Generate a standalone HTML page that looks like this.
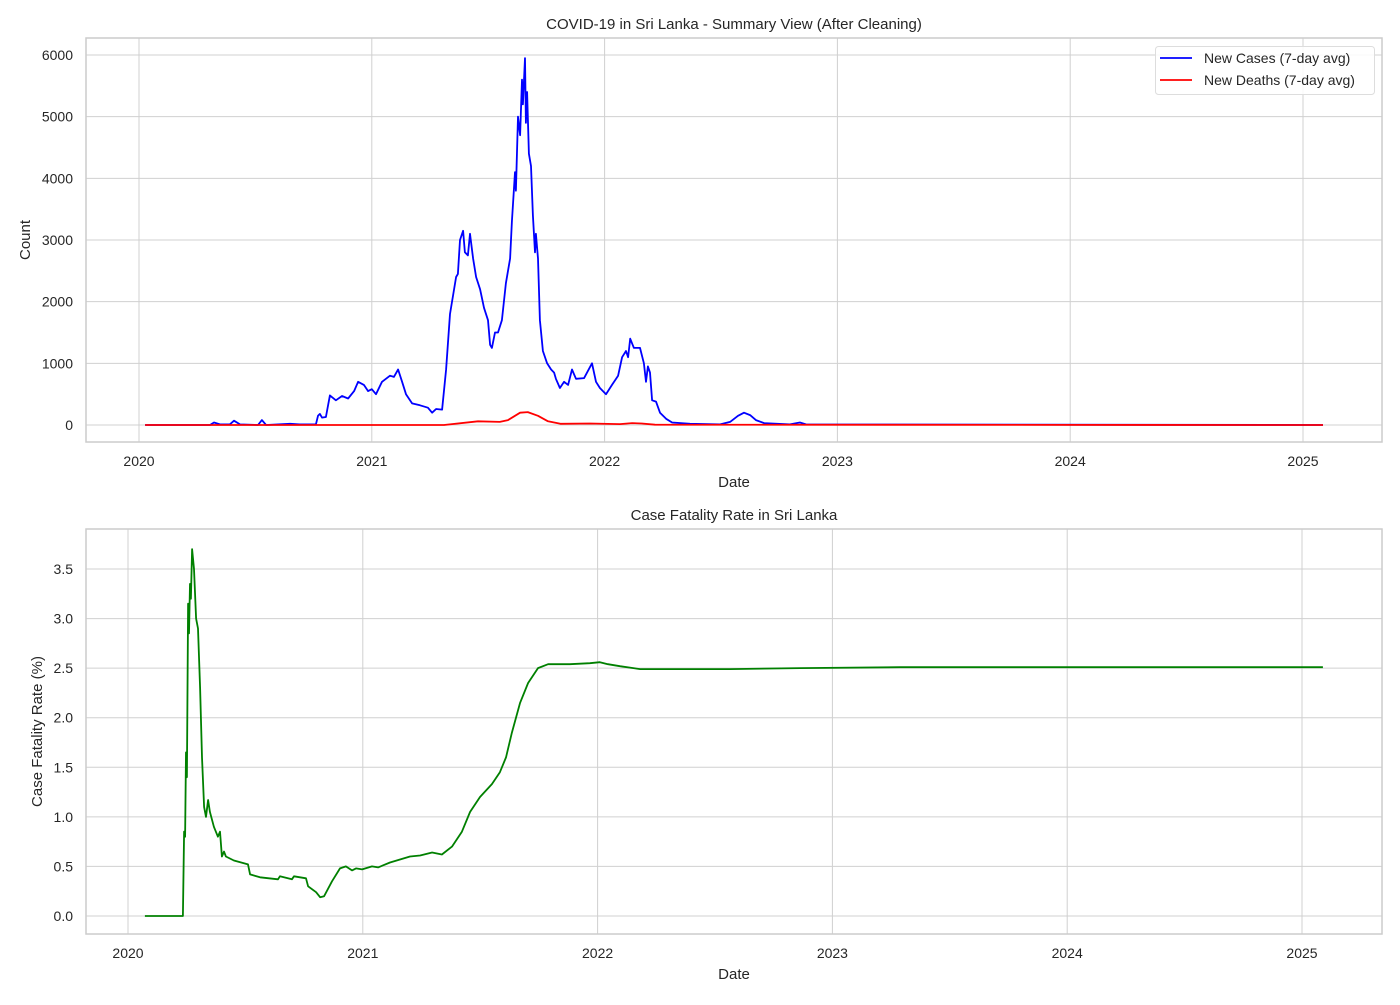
<!DOCTYPE html>
<html><head><meta charset="utf-8"><style>
body{margin:0;background:#fff}
svg text{font-family:"Liberation Sans",Arial,sans-serif;fill:#262626}
</style></head><body>
<svg id="c" width="1400" height="1000" xmlns="http://www.w3.org/2000/svg"></svg>
<script>
// Top chart data (offset years since 2020)
const caseYears=[0.026,0.305,0.322,0.348,0.39,0.408,0.434,0.511,0.528,0.546,0.649,0.69,0.76,0.769,0.777,0.786,0.803,0.82,0.846,0.872,0.898,0.924,0.941,0.966,0.984,1.0,1.018,1.044,1.078,1.095,1.113,1.13,1.147,1.173,1.207,1.241,1.259,1.276,1.302,1.319,1.336,1.362,1.37,1.379,1.392,1.40,1.413,1.422,1.435,1.448,1.465,1.482,1.499,1.508,1.516,1.529,1.542,1.559,1.576,1.594,1.602,1.615,1.619,1.628,1.637,1.645,1.649,1.658,1.662,1.667,1.675,1.684,1.692,1.701,1.705,1.714,1.722,1.735,1.753,1.77,1.783,1.791,1.808,1.826,1.843,1.86,1.877,1.912,1.946,1.963,1.98,2.006,2.032,2.058,2.075,2.092,2.101,2.11,2.126,2.152,2.169,2.178,2.186,2.195,2.204,2.221,2.238,2.264,2.29,2.367,2.496,2.539,2.573,2.599,2.625,2.65,2.685,2.796,2.839,2.865,5.086];
const caseValues=[0,0,40,10,10,70,10,0,80,0,20,10,10,150,180,120,130,480,400,470,430,550,700,650,550,580,500,700,800,780,900,700,500,350,320,280,200,260,250,900,1800,2400,2450,3000,3150,2800,2750,3100,2700,2400,2200,1900,1700,1300,1250,1500,1500,1700,2300,2700,3300,4100,3800,5000,4700,5600,5200,5950,4900,5400,4400,4200,3400,2800,3100,2700,1700,1200,1000,900,850,750,600,700,650,900,750,760,1000,700,600,500,650,800,1100,1200,1100,1400,1250,1250,1000,700,950,850,400,380,200,100,40,20,10,50,150,200,160,80,30,10,40,10,0];
const deathYears=[0.026,1.31,1.456,1.55,1.585,1.637,1.67,1.714,1.757,1.81,1.937,2.066,2.118,2.16,2.216,5.086];
const deathValues=[0,0,60,50,80,200,210,150,60,20,25,15,30,25,5,0];
// Bottom chart data
const cfrYears=[0.072,0.234,0.239,0.243,0.247,0.251,0.256,0.26,0.264,0.268,0.273,0.281,0.29,0.298,0.307,0.315,0.324,0.332,0.341,0.349,0.366,0.383,0.392,0.4,0.409,0.417,0.451,0.511,0.52,0.562,0.639,0.647,0.698,0.707,0.758,0.767,0.801,0.818,0.835,0.869,0.903,0.928,0.954,0.971,0.997,1.039,1.065,1.116,1.201,1.244,1.295,1.337,1.38,1.422,1.457,1.499,1.55,1.584,1.61,1.635,1.67,1.704,1.746,1.789,1.882,1.967,2.01,2.044,2.095,2.181,2.564,2.862,3.288,5.089];
const cfrValues=[0,0,0.85,0.8,1.65,1.4,3.15,2.85,3.35,3.2,3.7,3.5,3.0,2.9,2.3,1.6,1.1,1.0,1.17,1.05,0.9,0.8,0.85,0.6,0.65,0.6,0.56,0.52,0.42,0.39,0.37,0.4,0.37,0.4,0.38,0.3,0.24,0.19,0.2,0.35,0.48,0.5,0.46,0.48,0.47,0.5,0.49,0.54,0.6,0.61,0.64,0.62,0.7,0.85,1.05,1.2,1.33,1.45,1.6,1.85,2.15,2.35,2.5,2.54,2.54,2.55,2.56,2.54,2.52,2.49,2.49,2.5,2.51,2.51];
const yearTicks=["2020","2021","2022","2023","2024","2025"];
const topTicks=[0,1000,2000,3000,4000,5000,6000];
const botTicks=[0,0.5,1,1.5,2,2.5,3,3.5];

const NS="http://www.w3.org/2000/svg";
const svg=document.getElementById('c');
function el(t,a,p){const e=document.createElementNS(NS,t);for(const k in a)e.setAttribute(k,a[k]);(p||svg).appendChild(e);return e;}

function panel(o){
  const g=el('g',{});
  
  
  const X=v=>o.x0+v*o.xs, Y=v=>o.y0-v*o.ys;
  yearTicks.forEach((t,i)=>{
    const x=X(i);
    const l=el('line',{x1:x,x2:x,y1:o.top,y2:o.bot,stroke:'#d0d0d0','stroke-width':1},g);
    
    const tx=el('text',{x:x,y:o.bot+24,'text-anchor':'middle','font-size':14},g);tx.textContent=t;
    
  });
  o.ticks.forEach(v=>{
    const y=Y(v);
    const l=el('line',{x1:86,x2:1382,y1:y,y2:y,stroke:'#d0d0d0','stroke-width':1},g);
    
    const tx=el('text',{x:73,y:y+5,'text-anchor':'end','font-size':14},g);tx.textContent=o.fmt(v);
    
  });
  const r=el('rect',{x:86,y:o.top,width:1296,height:o.bot-o.top,fill:'none',stroke:'#cccccc','stroke-width':1.5},g);
  
  o.series.forEach(s=>{
    const d=s.xs.map((v,i)=>(i?'L':'M')+X(v).toFixed(1)+','+Y(s.ys[i]).toFixed(1)).join('');
    const p=el('path',{d:d,fill:'none',stroke:s.color,'stroke-width':1.8,'stroke-linejoin':'round'},g);
    
  });
  const t=el('text',{x:734,y:o.top-9,'text-anchor':'middle','font-size':15},g);t.textContent=o.title;
  
  const xl=el('text',{x:734,y:o.bot+45,'text-anchor':'middle','font-size':15},g);xl.textContent='Date';
  
  const cy=(o.top+o.bot)/2;
  const yl=el('text',{x:o.ylx,y:cy,'text-anchor':'middle','font-size':15,transform:`rotate(-90 ${o.ylx} ${cy})`},g);yl.textContent=o.ylabel;
  
}
panel({name:'summary-panel',top:38,bot:442,x0:139,xs:232.8,y0:425,ys:370/6000,ticks:topTicks,fmt:v=>String(v),
  title:'COVID-19 in Sri Lanka - Summary View (After Cleaning)',ylabel:'Count',ylx:30,
  series:[{name:'new-cases-line',xs:caseYears,ys:caseValues,color:'#0000ff'},{name:'new-deaths-line',xs:deathYears,ys:deathValues,color:'#ff0000'}]});
panel({name:'cfr-panel',top:529,bot:934,x0:128,xs:234.8,y0:916,ys:347/3.5,ticks:botTicks,fmt:v=>v.toFixed(1),
  title:'Case Fatality Rate in Sri Lanka',ylabel:'Case Fatality Rate (%)',ylx:42,
  series:[{name:'cfr-line',xs:cfrYears,ys:cfrValues,color:'#008000'}]});
// legend
const lg=el('g',{});


el('rect',{x:1155.5,y:46.5,width:219,height:48,rx:3,fill:'#fff','fill-opacity':0.85,stroke:'#dddddd'},lg);
[['New Cases (7-day avg)','#0000ff',58],['New Deaths (7-day avg)','#ff0000',80]].forEach(([t,c,y])=>{
  const e=el('g',{},lg);
  
  
  el('line',{x1:1160,x2:1192,y1:y,y2:y,stroke:c,'stroke-width':1.8},e);
  const tx=el('text',{x:1204,y:y+5,'font-size':14},e);tx.textContent=t;
});
</script>
</body></html>
